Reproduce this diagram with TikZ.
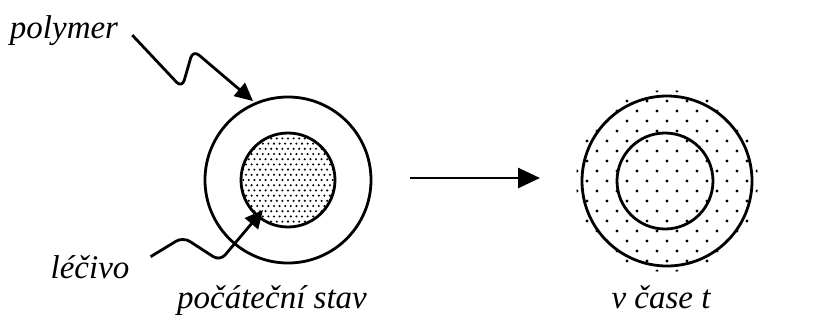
\documentclass[tikz,border=0pt]{standalone}
\usepackage{fontspec}
\setmainfont{Liberation Serif}
\usetikzlibrary{positioning,arrows.meta}

\begin{document}
\begin{tikzpicture}[x=1pt, y=-1pt,
    shell/.style={draw, circle, line width=2.8pt, inner sep=0pt},
    lab/.style={font=\fontsize{33}{36}\selectfont\itshape, inner sep=0pt, anchor=base},
    wiggle/.style={line width=2.8pt, rounded corners=8pt, -{Triangle[length=18pt,width=17pt]}}]
    \useasboundingbox (0,0) rectangle (835,322);

    % kapsle na zacatku
    \node[shell, minimum size=166pt] (outerA) at (288,180) {};
    \node[shell, minimum size=94pt] (coreA) at (outerA.center) {};

    % kapsle v case t
    \node[shell, minimum size=170pt] (outerB) at (667,181) {};
    \node[shell, minimum size=96pt] (coreB) at (665,181) {};

    % tecky - lecivo
    \begin{scope}
        \clip (coreA.center) circle[radius=46pt];
        \foreach \j in {-9,...,9} {
            \foreach \i in {-9,...,9} {
                \fill ({288+5.6*\i+2.8*mod(abs(\j),2)},{180+5.2*\j}) circle[radius=1.15pt];
            }
        }
    \end{scope}
    \begin{scope}
        \clip (outerB.center) circle[radius=91pt];
        \foreach \j in {-9,...,9} {
            \foreach \i in {-5,...,5} {
                \fill ({667+20*\i+10*mod(abs(\j),2)},{181+10*\j}) circle[radius=1.6pt];
            }
        }
    \end{scope}

    % popisky
    \node[lab] (polymer) at (64,38) {polymer};
    \node[lab] (lecivo) at (90,278) {léčivo};
    \node[lab] (startcap) at (272,308) {počáteční stav};
    \node[lab] (timecap) at (661,308) {v čase t};

    \coordinate (polyTip) at (253,101);
    \coordinate (lecTip) at (263,210);
    \coordinate (midA) at (410,178);
    \coordinate (midB) at (540,178);

    \draw[wiggle] (polymer.east) ++(14pt,-5pt) -- (182,88) -- (193,50) -- (polyTip);
    \draw[wiggle] (lecivo.east) ++(21pt,10pt) -- (183,237) -- (220,261) -- (lecTip);

    \draw[line width=2.8pt, -{Triangle[length=22pt,width=20pt]}] (midA) -- (midB);

\end{tikzpicture}
\end{document}
